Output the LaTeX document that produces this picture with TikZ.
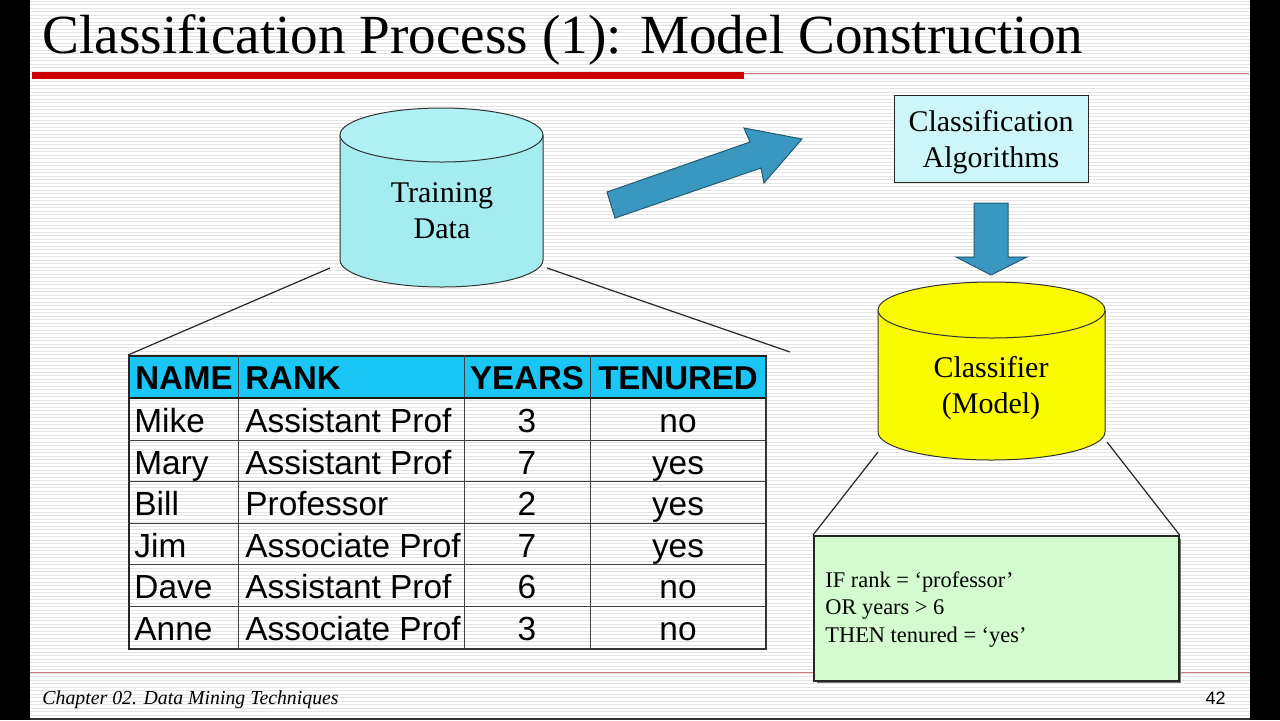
\documentclass[tikz,border=0pt]{standalone}
\usepackage{fontspec}
\setmainfont{Liberation Serif}
\newfontfamily\arialf{Liberation Sans}
\definecolor{hdrfill}{RGB}{25,198,245}
\definecolor{tdfill}{RGB}{165,236,240}
\definecolor{tdtop}{RGB}{176,241,245}
\definecolor{algfill}{RGB}{205,246,250}
\definecolor{yelfill}{RGB}{250,250,0}
\definecolor{rulefill}{RGB}{212,250,208}
\definecolor{arrowfill}{RGB}{58,152,192}
\definecolor{stripe}{RGB}{228,228,228}
\definecolor{slidered}{RGB}{204,0,0}
\definecolor{thinred}{RGB}{205,120,120}
\begin{document}
\begin{tikzpicture}[x=0.5pt,y=-0.5pt,
  cylline/.style={draw=black!80, line width=0.5pt},
  blockarrow/.style={fill=arrowfill, draw=arrowfill!60!black, line width=0.5pt},
  cyltext/.style={font=\fontsize{15}{18}\selectfont, anchor=base, inner sep=0pt},
  hdrtext/.style={font=\arialf\bfseries\fontsize{16.5}{20}\selectfont, anchor=base west, inner sep=0pt},
  celltext/.style={font=\arialf\fontsize{16.7}{20}\selectfont, anchor=base west, inner sep=0pt},
  ctrtext/.style={font=\arialf\fontsize{16.7}{20}\selectfont, anchor=base, inner sep=0pt},
  ctrhdr/.style={font=\arialf\bfseries\fontsize{16.5}{20}\selectfont, anchor=base, inner sep=0pt},
  ruletext/.style={font=\fontsize{11.2}{13}\selectfont, anchor=base west, inner sep=0pt},
  grid/.style={draw=black!75, line width=0.5pt},
  connector/.style={draw=black!85, line width=0.6pt}
]
\useasboundingbox (0,0) rectangle (1280,720);
% background
\fill[white] (0,0) rectangle (1280,720);
\foreach \yy in {1,4.5,...,720} \draw[stripe, line width=0.5pt] (30,\yy) -- (1250,\yy);
\fill[black] (0,0) rectangle (30,720);
\fill[black] (1250,0) rectangle (1280,720);
\fill[black!80] (30,718) rectangle (1250,720);

% title
\node[anchor=base west, inner sep=0pt, font=\fontsize{27.6}{33}\selectfont] (title) at (42,53) {Classification Process (1): Model Construction};
\fill[slidered] (32,72) rectangle (744,79);
\draw[thinred, line width=0.5pt] (744,73) -- (1249,73);
\draw[thinred, line width=0.5pt] (30,672) -- (1250,672);

% footer
\node[anchor=base west, inner sep=0pt, font=\itshape\fontsize{9.9}{12}\selectfont] (footer) at (42,704) {Chapter 02. Data Mining Techniques};
\node[anchor=base east, inner sep=0pt, font=\arialf\fontsize{9}{11}\selectfont] (pagenum) at (1226,704) {42};

% Training data cylinder
\fill[tdfill] (340,135) -- (340,260) arc[start angle=180,end angle=0,x radius=101.5,y radius=27] -- (543,135) -- cycle;
\draw[cylline] (340,135) -- (340,260) arc[start angle=180,end angle=0,x radius=101.5,y radius=27] -- (543,135);
\draw[cylline, fill=tdtop] (441.5,135) ellipse[x radius=101.5, y radius=27];
\node[cyltext] (td1) at (442,202) {Training};
\node[cyltext] (td2) at (442,238) {Data};
\coordinate (tdL) at (330,268);
\coordinate (tdR) at (547,268);

% arrow to algorithms
\draw[blockarrow] (607,192) -- (750,142) -- (744,128) -- (802,139) -- (764,183) -- (761,168) -- (615,218) -- cycle;

% Classification algorithms box
\node[draw=black!85, fill=algfill, line width=0.6pt, minimum width=97pt, minimum height=43.5pt, anchor=north west, inner sep=0pt] (alg) at (894,95) {};
\node[cyltext] (alg1) at (991,131) {Classification};
\node[cyltext] (alg2) at (991,167) {Algorithms};

% down arrow
\draw[blockarrow] (974,203) -- (1008,203) -- (1008,257) -- (1027,257) -- (991,275) -- (956,257) -- (974,257) -- cycle;

% Classifier cylinder
\fill[yelfill] (878,310) -- (878,432) arc[start angle=180,end angle=0,x radius=113.5,y radius=28] -- (1105,310) -- cycle;
\draw[cylline] (878,310) -- (878,432) arc[start angle=180,end angle=0,x radius=113.5,y radius=28] -- (1105,310);
\draw[cylline, fill=yelfill] (991.5,310) ellipse[x radius=113.5, y radius=28];
\node[cyltext] (cl1) at (991,377) {Classifier};
\node[cyltext] (cl2) at (991,413) {(Model)};
\coordinate (clL) at (878,452);
\coordinate (clR) at (1107,442);

% rule box
\fill[black!55] (817,539) rectangle (1181,683);
\node[draw=black!85, fill=rulefill, line width=0.8pt, minimum width=182.5pt, minimum height=72.5pt, anchor=north west, inner sep=0pt] (rule) at (813,535) {};
\node[ruletext] (r1) at (825,587) {IF rank = ‘professor’};
\node[ruletext] (r2) at (825,614.5) {OR years > 6};
\node[ruletext] (r3) at (825,642) {THEN tenured = ‘yes’};
\draw[connector] (clL) -- (rule.north west);
\draw[connector] (clR) -- (rule.north east);

% table
\fill[hdrfill] (128,355) rectangle (765,398);
\node[draw=black!85, line width=0.8pt, minimum width=318.5pt, minimum height=146.5pt, anchor=north west, inner sep=0pt] (tbl) at (128,355) {};
\draw[black!80, line width=0.8pt] (766,357) -- (766,649) -- (130,649);
\foreach \xx in {238,464,590} \draw[grid] (\xx,355) -- (\xx,648);
\foreach \yy in {440,481,523,564,606} \draw[grid] (128,\yy) -- (765,\yy);
\draw[black!90, line width=1pt] (128,398) -- (765,398);
\draw[connector] (tdL) -- (tbl.north west);
\draw[connector] (tdR) -- (790,352);

\node[hdrtext] (hn) at (135,389) {NAME};
\node[hdrtext] (hr) at (245,389) {RANK};
\node[ctrhdr] (hy) at (527,389) {YEARS};
\node[ctrhdr] (ht) at (678,389) {TENURED};

\foreach \nm/\rk/\yr/\tn/\bl [count=\i] in {Mike/Assistant Prof/3/no/432, Mary/Assistant Prof/7/yes/474, Bill/Professor/2/yes/515, Jim/Associate Prof/7/yes/557, Dave/Assistant Prof/6/no/598, Anne/Associate Prof/3/no/640} {
  \node[celltext] (n\i) at (134,\bl) {\nm};
  \node[celltext] (k\i) at (245,\bl) {\rk};
  \node[ctrtext] (y\i) at (527,\bl) {\yr};
  \node[ctrtext] (t\i) at (678,\bl) {\tn};
}
\end{tikzpicture}
\end{document}
